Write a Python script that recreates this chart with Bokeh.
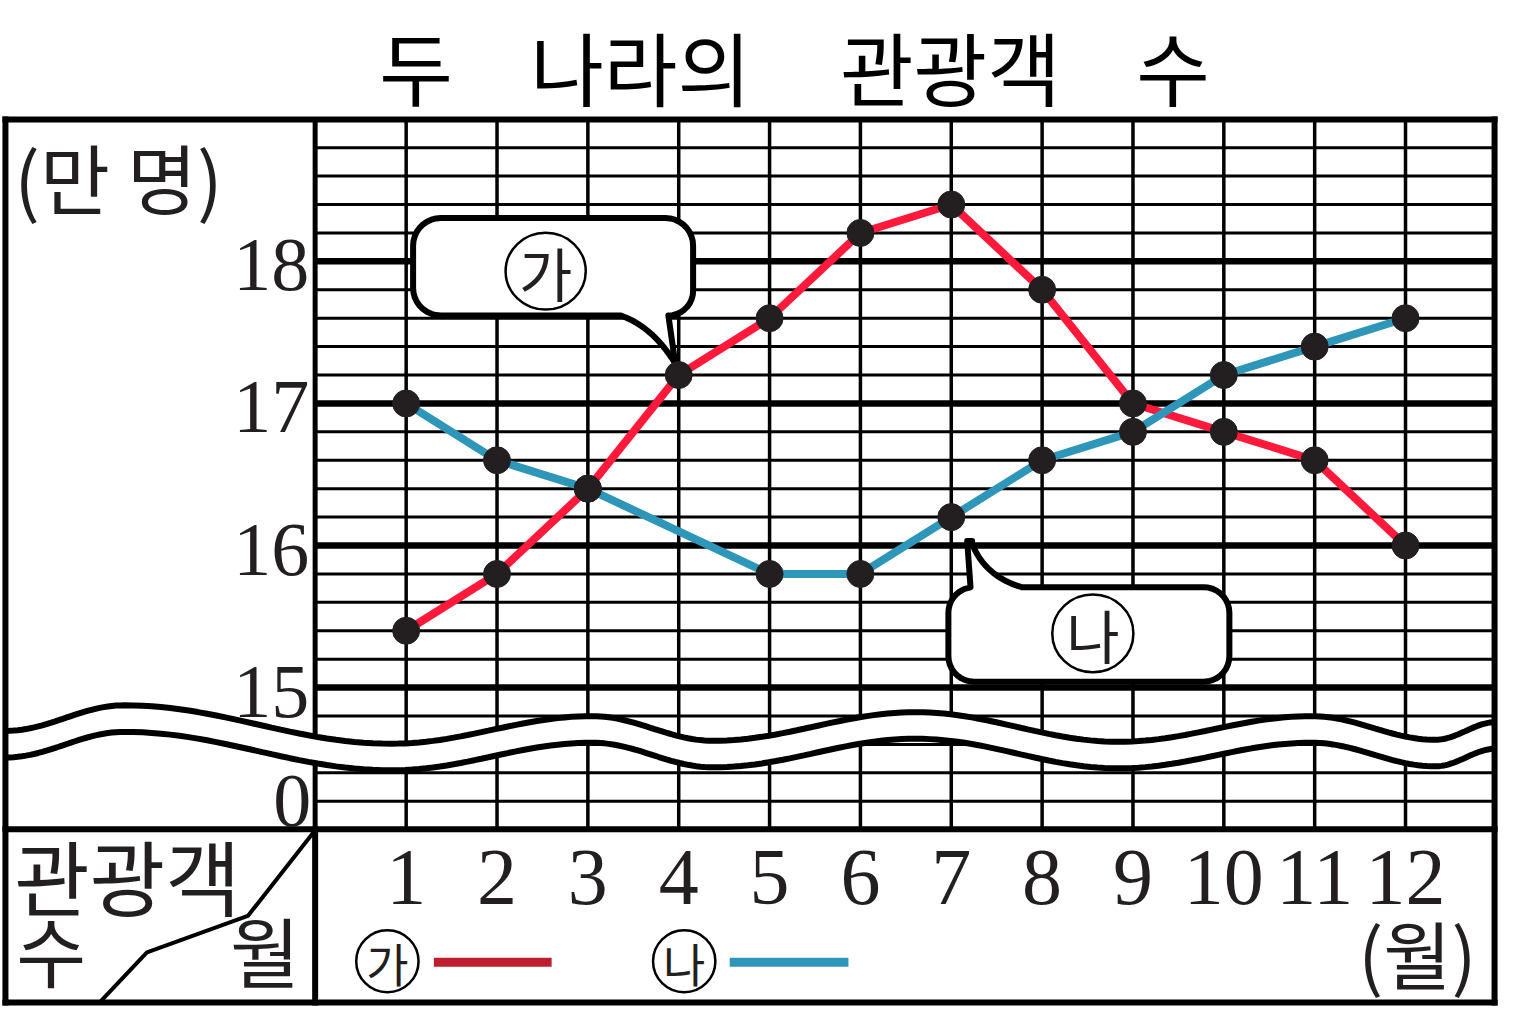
import numpy as np
from bokeh.plotting import figure
from bokeh.models import Range1d
from bokeh.core.properties import value
from bokeh.embed import file_html
from bokeh.resources import INLINE

# ---------------- data ----------------
months = [1, 2, 3, 4, 5, 6, 7, 8, 9, 10, 11, 12]
month_labels = ["1", "2", "3", "4", "5", "6", "7", "8", "9", "10", "11", "12"]
ga_values = [15.4, 15.8, 16.4, 17.2, 17.6, 18.2, 18.4, 17.8, 17.0, 16.8, 16.6, 16.0]
na_months = [1, 2, 3, 5, 6, 7, 8, 9, 10, 11, 12]
na_values = [17.0, 16.6, 16.4, 15.8, 15.8, 16.2, 16.6, 16.8, 17.2, 17.4, 17.6]
y_ticks = [15, 16, 17, 18]
y_tick_labels = ["15", "16", "17", "18"]
zero_label = "0"
zero_pos = 14.2          # where the "0" of the broken axis sits
title_words = ["두", "나라의", "관광객", "수"]
series_names = ["가", "나"]
unit_y = "(만 명)"
unit_x = "(월)"

RED = "#FF1A3B"
RED_LEG = "#BE1E2D"
BLUE = "#2E96B8"
INK = "#231F20"
SANS = value("Noto Sans CJK KR")
SERIF = value("Liberation Serif")

# reference-layout helpers (page pixel -> data coordinate)
def X(px):
    return 1 + (px - 410) / 91.82

def Y(py):
    return 15 + (698 - py) / 144.33

W, H = 1499, 1008
p = figure(width=W, height=H, output_backend="svg", toolbar_location=None,
           x_range=Range1d(X(0), X(1515)), y_range=Range1d(Y(1024), Y(0)),
           x_axis_type=None, y_axis_type=None, min_border=0,
           outline_line_color=None, background_fill_color="white")
p.grid.visible = False

# ---------------- grid ----------------
minor = [round(v, 1) for v in np.arange(14.2, 19.0, 0.2) if abs(v - round(v)) > 1e-6]
p.segment(x0=[X(318)] * len(minor), x1=[X(1510)] * len(minor), y0=minor, y1=minor,
          line_color="black", line_width=3)
p.segment(x0=[X(318)] * len(y_ticks), x1=[X(1510)] * len(y_ticks), y0=y_ticks, y1=y_ticks,
          line_color="black", line_width=6.5)
p.segment(x0=months, x1=months, y0=[14] * 12, y1=[19] * 12,
          line_color="black", line_width=3.5)
# plot-left divider (upper part, interrupted by the wave)
p.segment(x0=[X(318)], x1=[X(318)], y0=[Y(121)], y1=[Y(842)], line_color="black", line_width=5)

# ---------------- axis-break wave ----------------
ext = [(5, 742), (125, 716), (395, 755), (598, 727), (720, 752), (925, 723),
       (1130, 753), (1325, 727), (1450, 751), (1512, 733)]
wx, wy = [], []
for (x0, y0), (x1, y1) in zip(ext[:-1], ext[1:]):
    t = np.linspace(0, 1, 30)
    wx.extend(list(x0 + (x1 - x0) * t))
    wy.extend(list(y0 + (y1 - y0) * (1 - np.cos(np.pi * t)) / 2))
wx = np.array(wx)
wy = np.array(wy)
p.varea(x=X(wx), y1=Y(wy), y2=Y(wy + 27), fill_color="white")
p.line(X(wx), Y(wy), line_color="black", line_width=6)
p.line(X(wx), Y(wy + 27), line_color="black", line_width=6)

# ---------------- frame ----------------
fx0 = [X(5), X(1510), X(5), X(5), X(5), X(318)]
fx1 = [X(5), X(1510), X(1510), X(1510), X(1510), X(318)]
fy0 = [Y(121), Y(121), Y(121), Y(1018), Y(842), Y(842)]
fy1 = [Y(1018), Y(1018), Y(121), Y(1018), Y(842), Y(1018)]
p.segment(x0=fx0, x1=fx1, y0=fy0, y1=fy1, line_color="black", line_width=6, line_cap="square")
p.line(X(np.array([318, 250, 148, 100])), Y(np.array([843, 930, 967, 1018])),
       line_color="black", line_width=4)

# ---------------- callouts ----------------
def arc(cx, cy, r, a0, a1, n=10):
    a = np.radians(np.linspace(a0, a1, n))
    return list(cx + r * np.cos(a)), list(cy + r * np.sin(a))

def quad(p0, p1, p2, n=14):
    t = np.linspace(0, 1, n)
    xs = (1 - t) ** 2 * p0[0] + 2 * (1 - t) * t * p1[0] + t ** 2 * p2[0]
    ys = (1 - t) ** 2 * p0[1] + 2 * (1 - t) * t * p1[1] + t ** 2 * p2[1]
    return list(xs), list(ys)

def build_a():
    L, R, T, B, r = 417, 700, 221, 320, 28
    xs, ys = [], []
    for seg in [arc(L + r, T + r, r, 180, 270), arc(R - r, T + r, r, 270, 360),
                arc(R - 25, B - 25, 25, 0, 90)]:
        xs += seg[0]; ys += seg[1]
    xs += [682]; ys += [369]
    qx, qy = quad((682, 369), (660, 332), (627, 320))
    xs += qx; ys += qy
    sx, sy = arc(L + r, B - r, r, 90, 180)
    xs += sx; ys += sy
    return np.array(xs), np.array(ys)

def build_b():
    L, R, T, B, r = 958, 1242, 596, 692, 26
    xs, ys = [], []
    sx, sy = arc(L + r, T + r, r, 180, 262)
    xs += sx; ys += sy
    xs += [977, 982]; ys += [549, 549]
    qx, qy = quad((982, 552), (995, 585), (1032, 596))
    xs += qx; ys += qy
    for seg in [arc(R - r, T + r, r, 270, 360), arc(R - r, B - r, r, 0, 90),
                arc(L + r, B - r, r, 90, 180)]:
        xs += seg[0]; ys += seg[1]
    return np.array(xs), np.array(ys)

for bx, by in [build_a(), build_b()]:
    p.patch(X(bx), Y(by), fill_color="white", line_color="black", line_width=6, line_join="round")

# circled series names in callouts and legend
cx_px = np.array([551, 1104, 391, 691])
cy_px = np.array([275, 643, 976, 976])
cw_px = np.array([81, 82, 63, 63])
ch_px = np.array([78, 79, 63, 63])
p.ellipse(x=X(cx_px), y=Y(cy_px), width=cw_px / 91.82, height=ch_px / 144.33,
          fill_color=None, line_color="black", line_width=2.5)
p.text(x=X(cx_px[:2]), y=Y(cy_px[:2] + 1), text=series_names, text_font=SANS,
       text_font_size="58px", text_align="center", text_baseline="middle", text_color=INK)
p.text(x=X(cx_px[2:]), y=Y(cy_px[2:] + 1), text=series_names, text_font=SANS,
       text_font_size="46px", text_align="center", text_baseline="middle", text_color=INK)

# legend lines
p.segment(x0=[X(438)], x1=[X(557)], y0=[Y(977)], y1=[Y(977)], line_color=RED_LEG, line_width=9)
p.segment(x0=[X(737)], x1=[X(857)], y0=[Y(977)], y1=[Y(977)], line_color=BLUE, line_width=9)

# ---------------- data ----------------
p.line(months, ga_values, line_color=RED, line_width=8, line_join="round")
p.line(na_months, na_values, line_color=BLUE, line_width=8, line_join="round")
p.scatter(months, ga_values, size=27, fill_color=INK, line_color=INK)
p.scatter(na_months, na_values, size=27, fill_color=INK, line_color=INK)

# ---------------- texts ----------------
p.text(x=[X(312)] * 4, y=y_ticks, text=y_tick_labels, y_offset=4, text_font=SERIF,
       text_font_size="76px", text_align="right", text_baseline="middle", text_color=INK)
p.text(x=[X(314)], y=[zero_pos], text=[zero_label], y_offset=0, text_font=SERIF,
       text_font_size="76px", text_align="right", text_baseline="middle", text_color=INK)
p.text(x=months, y=[Y(891)] * 12, text=month_labels, text_font=SERIF,
       text_font_size="80px", text_align="center", text_baseline="middle", text_color=INK)

p.text(x=X(np.array([420, 647, 960, 1185])), y=[Y(66)] * 4, text=title_words, text_font=SANS,
       text_font_size="80px", text_align="center", text_baseline="middle", text_color="black")

p.text(x=[X(14)], y=[Y(178)], text=[unit_y], text_font=SANS, text_font_size="76px",
       text_align="left", text_baseline="middle", text_color=INK)
p.text(x=[X(1432)], y=[Y(966)], text=[unit_x], text_font=SANS, text_font_size="74px",
       text_align="center", text_baseline="middle", text_color=INK)
p.text(x=[X(14)], y=[Y(888)], text=["관광객"], text_font=SANS, text_font_size="82px",
       text_align="left", text_baseline="middle", text_color=INK)
p.text(x=[X(16)], y=[Y(964)], text=["수"], text_font=SANS, text_font_size="76px",
       text_align="left", text_baseline="middle", text_color=INK)
p.text(x=[X(232)], y=[Y(964)], text=["월"], text_font=SANS, text_font_size="76px",
       text_align="left", text_baseline="middle", text_color=INK)

open("out.html", "w").write(file_html(p, INLINE))
